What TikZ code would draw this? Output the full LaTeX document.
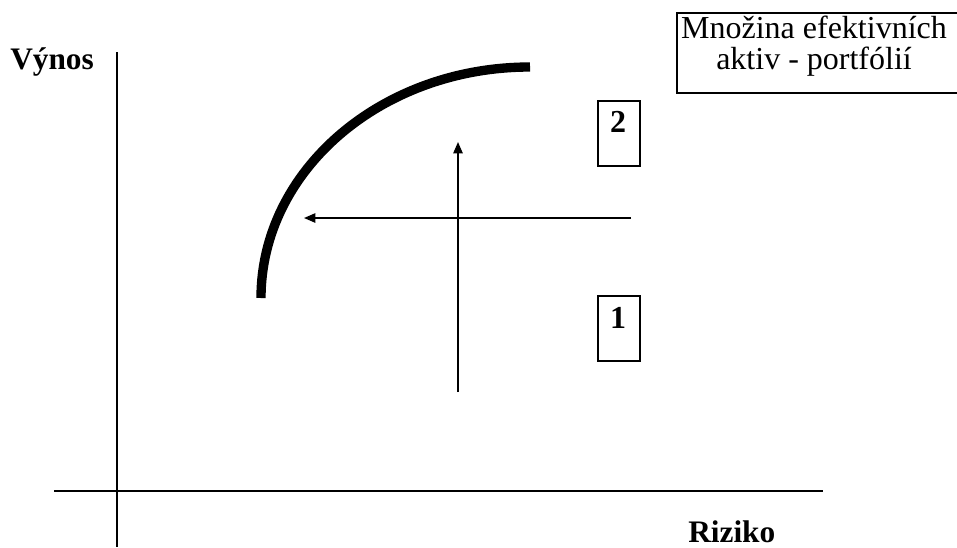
\documentclass[tikz,border=0pt]{standalone}
\usepackage{fontspec}
\setmainfont{Liberation Serif}
\usetikzlibrary{arrows.meta}
\begin{document}
\begin{tikzpicture}[x=0.75pt,y=-0.75pt,
  axis/.style={line width=1.9pt},
  move/.style={line width=1.2pt,-{Triangle[length=8.5pt,width=7pt]}},
  frontier/.style={line width=7pt},
  lbl/.style={font=\bfseries\fontsize{23.5}{28}\selectfont,inner sep=0pt},
  legtext/.style={font=\fontsize{24}{28}\selectfont,inner sep=0pt},
  numbox/.style={draw,line width=1.3pt,minimum width=31.5pt,minimum height=48.75pt,inner sep=0pt},
  digit/.style={font=\bfseries\fontsize{24}{28}\selectfont,inner sep=0pt}]
\useasboundingbox (0,0) rectangle (957,547);
% axes
\coordinate (ytop) at (117,52);
\coordinate (ybot) at (117,547);
\coordinate (xl) at (54,491);
\coordinate (xr) at (823,491);
\draw[axis] (ytop) -- (ybot);
\draw[axis] (xl) -- (xr);
\node[lbl,anchor=base west] (vynos) at (10,69) {Výnos};
\node[lbl,anchor=base west] (riziko) at (688,542) {Riziko};
% efficient frontier
\draw[frontier] (261,298) arc[start angle=180,end angle=270,x radius=269,y radius=231];
% arrows
\coordinate (hs) at (631,218);
\coordinate (he) at (304,218);
\coordinate (vs) at (458,392);
\coordinate (ve) at (458,142);
\draw[move] (hs) -- (he);
\draw[move] (vs) -- (ve);
% boxes
\node[numbox,anchor=north west] (b2) at (597,100) {};
\node[digit,anchor=base] (d2) at (618,132) {2};
\node[numbox,anchor=north west] (b1) at (597,295) {};
\node[digit,anchor=base] (d1) at (618,328) {1};
% legend box
\draw[line width=1.3pt] (958,13) -- (677,13) -- (677,93) -- (958,93);
\node[legtext,anchor=base] (leg1) at (814,38) {Množina efektivních};
\node[legtext,anchor=base] (leg2) at (814,69) {aktiv - portfólií};
\end{tikzpicture}
\end{document}
